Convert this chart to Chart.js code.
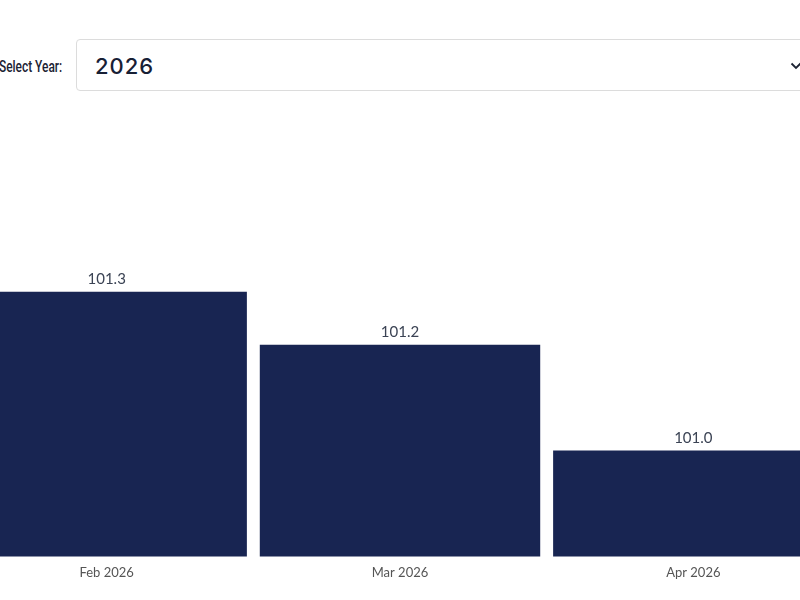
<!DOCTYPE html>
<html>
<head>
<meta charset="utf-8">
<script src="https://cdn.jsdelivr.net/npm/chart.js@4"></script>
<style>
  html, body { margin: 0; padding: 0; background: #fff; overflow: hidden; width: 800px; height: 600px; }
  .filter { position: absolute; top: 39px; left: 0; height: 52px; width: 900px; }
  .filter label {
    position: absolute; left: -1px; top: 0; line-height: 54px;
    font-family: Roboto, sans-serif; font-weight: 500;
    font-size: 17px; color: #1c2333;
    transform: scaleX(0.7); transform-origin: left center; white-space: nowrap;
  }
  .filter .box {
    position: absolute; left: 76px; top: 0; width: 760px; height: 50px;
    border: 1px solid #dcdcdc; border-radius: 4px; box-sizing: content-box;
    font-family: Inter, sans-serif; font-weight: 500; font-size: 22px;
    color: #172035; line-height: 52px; padding-left: 18px; letter-spacing: 1px;
  }
  .filter .chev { position: absolute; left: 790px; top: 22px; }
  .wrap { position: absolute; left: -40px; top: 110px; width: 880px; height: 490px; }
</style>
</head>
<body>
<div class="filter">
  <label>Select Year:</label>
  <div class="box">2026</div>
  <svg class="chev" width="12" height="10" viewBox="0 0 12 10"><path d="M1.5 2.5 L6 7 L10.5 2.5" fill="none" stroke="#1c2333" stroke-width="1.8"/></svg>
</div>
<div class="wrap"><canvas id="cpiChart"></canvas></div>
<script>
const months = ['Feb 2026', 'Mar 2026', 'Apr 2026'];
const indexValues = [101.3, 101.2, 101.0];

const barColor = '#182552';

// draws the value above each bar
const valueLabels = {
  id: 'valueLabels',
  afterDatasetsDraw(chart) {
    const ctx = chart.ctx;
    const meta = chart.getDatasetMeta(0);
    ctx.save();
    ctx.font = '15px Lato';
    ctx.fillStyle = '#3b4354';
    ctx.textAlign = 'center';
    ctx.textBaseline = 'bottom';
    meta.data.forEach((bar, i) => {
      ctx.fillText(indexValues[i].toFixed(1), bar.x, bar.y - 5);
    });
    ctx.restore();
  }
};

new Chart(document.getElementById('cpiChart'), {
  type: 'bar',
  data: {
    labels: months,
    datasets: [{
      data: indexValues,
      backgroundColor: barColor,
      borderWidth: 0,
      categoryPercentage: 1,
      barPercentage: 0.956
    }]
  },
  options: {
    responsive: true,
    maintainAspectRatio: false,
    animation: false,
    layout: { padding: { top: 23, bottom: 18 } },
    plugins: { legend: { display: false }, tooltip: { enabled: false } },
    scales: {
      x: {
        grid: { display: false },
        border: { display: false },
        ticks: { color: '#555', font: { family: 'Lato', size: 13 }, padding: 1 }
      },
      y: {
        display: false,
        min: 100.8,
        max: 101.6
      }
    }
  },
  plugins: [valueLabels]
});
</script>
</body>
</html>
